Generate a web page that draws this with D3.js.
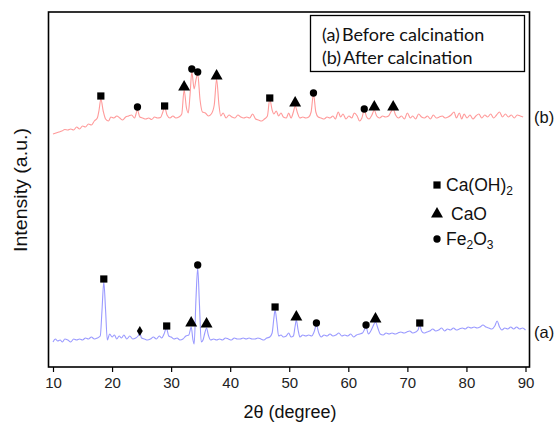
<!DOCTYPE html>
<html><head><meta charset="utf-8">
<script src="https://cdn.jsdelivr.net/npm/d3@7"></script>
<style>body{margin:0;background:#fff}svg{display:block}</style>
</head><body><svg id="c" width="557" height="425"></svg>
<script>
// ---------- data ----------
const xTicks = [10,20,30,40,50,60,70,80,90];
// curve (b) after calcination: [2theta, intensity a.u.]
const curveB = [[10.0,233],[10.5,234],[11.0,235],[11.5,236],[12.0,237.5],[12.5,237],[13.0,238],[13.5,237],[14.0,240],[14.5,238],[15.0,241],[15.5,240],[16.0,243],[16.5,242],[17.0,246],[17.5,249],[17.8,257],[18.1,268],[18.5,256],[18.9,248],[19.4,246],[19.8,250],[20.3,249],[20.8,251],[21.3,249],[21.8,247],[22.3,250],[22.8,251],[23.3,252],[23.8,249],[24.3,257],[24.7,250],[25.2,249],[25.7,248],[26.2,249],[26.7,247.5],[27.2,250],[27.7,249],[28.2,249.5],[28.6,255],[28.9,260],[29.3,252],[29.8,249],[30.3,251],[30.8,249],[31.3,250],[31.8,253],[32.2,277],[32.6,259],[32.9,254],[33.2,272],[33.5,295],[33.9,278],[34.2,287],[34.5,293],[34.9,267],[35.3,255],[35.8,254],[36.3,251],[36.8,253],[37.3,262],[37.7,288],[38.1,262],[38.4,251],[38.8,254],[39.3,249],[39.8,252],[40.3,250],[40.8,249],[41.3,252],[41.8,250],[42.3,249],[42.8,250],[43.3,249],[43.8,253],[44.3,248],[44.8,247],[45.3,246],[45.8,248],[46.3,251],[46.7,268],[47.1,257],[47.4,253],[47.8,256],[48.2,251],[48.6,254],[49.0,250],[49.5,249],[49.9,254],[50.3,249],[50.7,255],[51.0,261],[51.4,254],[51.8,249],[52.3,250],[52.8,249],[53.3,250],[53.7,255],[54.1,273],[54.5,255],[54.9,250],[55.4,249],[55.9,248],[56.4,250],[56.9,249],[57.4,251],[57.8,248],[58.3,255],[58.7,250],[59.1,253],[59.6,248],[60.1,251],[60.6,249],[61.0,254],[61.5,251],[61.9,246],[62.3,249],[62.7,257],[63.1,250],[63.5,248],[64.0,252],[64.4,257],[64.8,251],[65.3,249],[65.8,251],[66.3,250],[66.8,251],[67.2,255],[67.6,258],[68.0,252],[68.5,249],[69.0,251],[69.5,248],[70.0,254],[70.5,249],[70.9,251],[71.4,248],[71.9,253],[72.4,250],[72.9,249],[73.4,251],[73.9,248],[74.4,252],[74.9,249],[75.4,250],[75.9,251],[76.4,249],[76.9,250],[77.4,252],[77.9,255],[78.3,249],[78.8,254],[79.2,248],[79.6,253],[80.1,249],[80.6,252],[81.1,248],[81.6,251],[82.1,253],[82.6,249],[83.1,252],[83.6,250],[84.1,253],[84.6,249],[85.1,252],[85.6,255],[86.1,250],[86.6,253],[87.1,250],[87.6,252],[88.1,249],[88.6,252],[89.1,251],[89.6,250]];
// curve (a) before calcination
const curveA = [[10.0,25],[10.4,28],[10.8,26],[11.2,27],[11.6,25],[12.0,28],[12.5,27],[13.0,25],[13.5,28],[14.0,27],[14.5,28],[15.0,27],[15.5,29],[16.0,28],[16.5,30],[17.0,28],[17.5,29],[18.0,31],[18.3,57],[18.6,85],[18.9,57],[19.2,27],[19.6,33],[20.0,30],[20.4,32],[20.8,28],[21.2,31],[21.6,29],[22.0,32],[22.5,28],[23.0,31],[23.5,28],[24.0,29],[24.4,31],[24.7,34],[25.0,29],[25.5,28],[26.0,27],[26.5,28],[27.0,30],[27.5,28],[28.0,31],[28.4,29],[28.8,33],[29.2,39],[29.6,31],[30.0,30],[30.5,28],[31.0,29],[31.5,27],[32.0,28],[32.5,31],[33.0,32],[33.4,40],[33.7,27],[33.9,23],[34.2,67],[34.5,99],[34.8,62],[35.1,25],[35.4,27],[35.7,34],[36.0,39],[36.3,32],[36.7,27],[37.2,28],[37.7,27],[38.2,28],[38.7,27],[39.2,29],[39.7,28],[40.2,27],[40.7,29],[41.2,28],[41.7,28],[42.2,29],[42.7,28],[43.2,29],[43.7,28],[44.2,28],[44.7,29],[45.2,28],[45.7,27],[46.2,29],[46.7,30],[47.1,34],[47.4,49],[47.6,57],[47.9,45],[48.2,31],[48.6,32],[49.0,30],[49.5,31],[49.9,34],[50.3,30],[50.7,31],[51.0,41],[51.2,47],[51.5,37],[51.8,30],[52.3,32],[52.8,31],[53.3,32],[53.8,31],[54.2,35],[54.6,42],[55.0,34],[55.4,30],[55.9,32],[56.4,31],[56.9,33],[57.4,31],[57.9,32],[58.4,34],[58.9,31],[59.4,32],[59.9,31],[60.4,33],[60.9,30],[61.4,32],[61.9,33],[62.4,34],[62.7,37],[63.0,40],[63.4,33],[63.8,36],[64.2,41],[64.6,45],[65.0,39],[65.4,33],[65.9,32],[66.4,34],[66.9,33],[67.4,34],[67.9,33],[68.4,34],[68.9,35],[69.4,34],[69.9,35],[70.4,36],[70.9,34],[71.4,35],[71.8,37],[72.1,42],[72.4,36],[72.8,34],[73.3,35],[73.8,36],[74.3,38],[74.8,36],[75.3,37],[75.8,39],[76.3,36],[76.8,38],[77.3,37],[77.8,39],[78.3,37],[78.8,38],[79.3,39],[79.8,38],[80.3,40],[80.8,39],[81.3,40],[81.8,39],[82.3,40],[82.8,42],[83.3,40],[83.8,39],[84.3,38],[84.8,41],[85.2,46],[85.6,40],[86.0,37],[86.5,39],[87.0,38],[87.5,40],[88.0,38],[88.5,40],[89.0,38],[89.5,39],[90.0,37]];
// phase markers [2theta, intensity]
const caoh2Markers = [[18.1,271],[28.9,261],[46.7,269],[18.6,88],[29.25,41],[47.6,60],[72.1,44]];
const caoMarkers   = [[32.2,280],[37.7,291],[51.0,264],[64.4,260],[67.6,260],[33.4,44],[36.0,43],[51.2,50],[64.6,48]];
const fe2o3Markers = [[24.3,260],[33.5,298],[34.5,295],[54.1,274],[62.7,258],[34.5,102],[54.6,44],[63.0,42]];
const diamondMarkers = [[24.7,36]];
const curveLabels = [["(b)",250],["(a)",35]];
const legendLines = [["(a)","Before calcination"],["(b)","After calcination"]];

// ---------- layout ----------
const svg = d3.select("#c");
const ff = "'Liberation Sans', Arial, sans-serif";
const frame = {l:48.5, r:529.5, t:12, b:367};
const x = d3.scaleLinear().domain([10,90]).range([53,525.5]);
const y = d3.scaleLinear().domain([0,355]).range([367,12]);

// curves
const line = d3.line().x(d=>x(d[0])).y(d=>y(d[1])).curve(d3.curveMonotoneX);
svg.append("path").datum(curveB).attr("d",line).attr("fill","none").attr("stroke","#ff9a9a").attr("stroke-width",1.1);
svg.append("path").datum(curveA).attr("d",line).attr("fill","none").attr("stroke","#9a9aff").attr("stroke-width",1.1);

// markers
const sq = d3.symbol().type(d3.symbolSquare).size(52);
const tri = d3.symbol().type(d3.symbolTriangle).size(62);
const cir = d3.symbol().type(d3.symbolCircle).size(42);
const dia = d3.symbol().type(d3.symbolDiamond).size(30);
function marks(data, sym){
  svg.append("g").selectAll("path").data(data).join("path")
    .attr("d", sym).attr("fill","#000")
    .attr("transform", d=>`translate(${x(d[0])},${y(d[1])})`);
}
marks(caoh2Markers, sq); marks(caoMarkers, tri); marks(fe2o3Markers, cir); marks(diamondMarkers, dia);

// frame
svg.append("rect").attr("x",frame.l).attr("y",frame.t).attr("width",frame.r-frame.l).attr("height",frame.b-frame.t)
  .attr("fill","none").attr("stroke","#000").attr("stroke-width",1.6);

// x axis
const ax = svg.append("g").attr("transform",`translate(0,${frame.b})`)
  .call(d3.axisBottom(x).tickValues(xTicks).tickSize(5).tickPadding(5).tickFormat(d3.format("d")));
ax.select(".domain").remove();
ax.selectAll("line").attr("stroke","#000").attr("stroke-width",1.2);
ax.selectAll("text").attr("font-family",ff).attr("font-size",15).attr("fill","#222");

svg.append("text").attr("x",290).attr("y",418).attr("text-anchor","middle")
  .attr("font-family",ff).attr("font-size",18).attr("fill","#111")
  .attr("textLength",93).attr("lengthAdjust","spacingAndGlyphs").text("2θ (degree)");
svg.append("text").attr("transform","translate(27,190) rotate(-90)").attr("text-anchor","middle")
  .attr("font-family",ff).attr("font-size",18.5).attr("fill","#111")
  .attr("textLength",124).attr("lengthAdjust","spacingAndGlyphs").text("Intensity (a.u.)");

// curve labels
svg.append("g").selectAll("text").data(curveLabels).join("text")
  .attr("x",534).attr("y",d=>y(d[1])+6).attr("font-family",ff)
  .attr("font-size",16.5).attr("fill","#111").text(d=>d[0]);

// legend box
svg.append("rect").attr("x",310.5).attr("y",15.5).attr("width",214).attr("height",56).attr("fill","#fff").attr("stroke","#000").attr("stroke-width",1.3);
const lg = svg.append("g").selectAll("text").data(legendLines).join("text")
  .attr("x",322).attr("y",(d,i)=>41+i*23).attr("font-family","Lato, sans-serif").attr("font-size",18).attr("fill","#111");
lg.append("tspan").text(d=>d[0]);
lg.append("tspan").attr("dx",2).text(d=>d[1]);

// phase legend
svg.append("path").attr("d",sq).attr("transform","translate(437,185)");
svg.append("path").attr("d",tri).attr("transform","translate(437,214)");
svg.append("path").attr("d",cir).attr("transform","translate(437,239)");
const t1 = svg.append("text").attr("x",446).attr("y",191).attr("font-family",ff).attr("font-size",17.5).attr("fill","#111");
t1.append("tspan").text("Ca(OH)"); t1.append("tspan").attr("font-size",12).attr("dy",4).text("2");
svg.append("text").attr("x",451).attr("y",220).attr("font-family",ff).attr("font-size",17.5).attr("fill","#111").text("CaO");
const t3 = svg.append("text").attr("x",446).attr("y",245).attr("font-family",ff).attr("font-size",17.5).attr("fill","#111");
t3.append("tspan").text("Fe"); t3.append("tspan").attr("font-size",12).attr("dy",4).text("2");
t3.append("tspan").attr("dy",-4).text("O"); t3.append("tspan").attr("font-size",12).attr("dy",4).text("3");
</script></body></html>
